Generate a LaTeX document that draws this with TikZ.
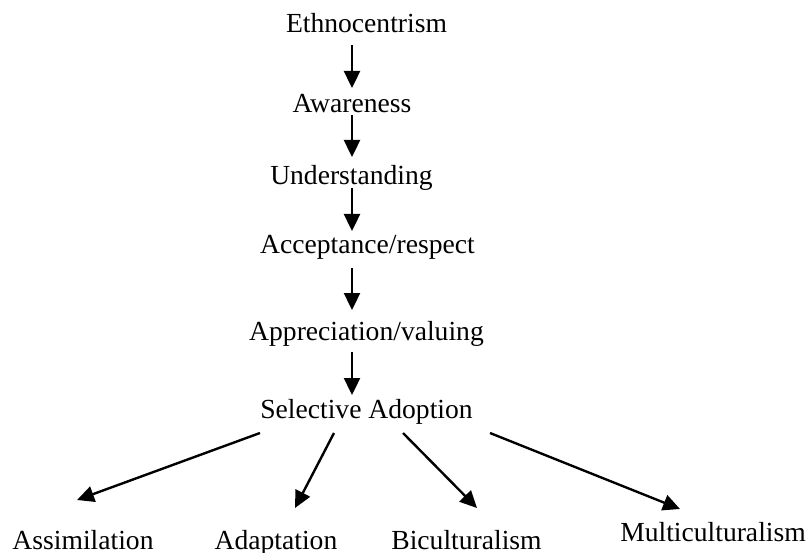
\documentclass[tikz,border=0pt]{standalone}
\usepackage{fontspec}
\setmainfont{Liberation Serif}
\usetikzlibrary{arrows.meta,calc}

\tikzset{
  stage/.style={inner sep=0pt, anchor=base, font=\fontsize{27.6}{33}\selectfont},
  flow/.style={line width=2.4pt, -{Triangle[length=17pt,width=16pt]}}
}

\begin{document}
\begin{tikzpicture}[x=1pt,y=1pt]
  \useasboundingbox (0,0) rectangle (808,-553);

  % vertical chain of stages
  \node[stage] (eth)   at (366.5,-33)  {Ethnocentrism};
  \node[stage] (aware) at (352,-113)   {Awareness};
  \node[stage] (under) at (351.5,-185) {Understanding};
  \node[stage] (accep) at (367.5,-254) {Acceptance/respect};
  \node[stage] (appre) at (366.5,-340) {Appreciation/valuing};
  \node[stage] (sel)   at (366.5,-418) {Selective Adoption};

  % outcomes
  \node[stage] (assim) at (83,-549)    {Assimilation};
  \node[stage] (adapt) at (276,-549)   {Adaptation};
  \node[stage] (bicul) at (466.5,-549) {Biculturalism};
  \node[stage] (multi) at (713,-541)   {Multiculturalism};

  % common x position of the vertical arrows
  \coordinate (spine) at (352,0);

  \draw[flow] ($(eth.base -| spine)+(0,-12)$)   -- ($(aware.base -| spine)+(0,25)$);
  \draw[flow] ($(aware.base -| spine)+(0,-2)$)  -- ($(under.base -| spine)+(0,28)$);
  \draw[flow] ($(under.base -| spine)+(0,-3)$)  -- ($(accep.base -| spine)+(0,23)$);
  \draw[flow] ($(accep.base -| spine)+(0,-14)$) -- ($(appre.base -| spine)+(0,30)$);
  \draw[flow] ($(appre.base -| spine)+(0,-12)$) -- ($(sel.base -| spine)+(0,23)$);

  % branching arrows
  \draw[flow] ($(sel.base)+(-106.5,-15)$) -- ($(assim.base)+(-6,49)$);
  \draw[flow] ($(sel.base)+(-32.5,-15)$)  -- ($(adapt.base)+(19,41)$);
  \draw[flow] ($(sel.base)+(36.5,-15)$)   -- ($(bicul.base)+(10.5,41)$);
  \draw[flow] ($(sel.base)+(123.5,-15)$)  -- ($(multi.base)+(-33,32)$);
\end{tikzpicture}
\end{document}
